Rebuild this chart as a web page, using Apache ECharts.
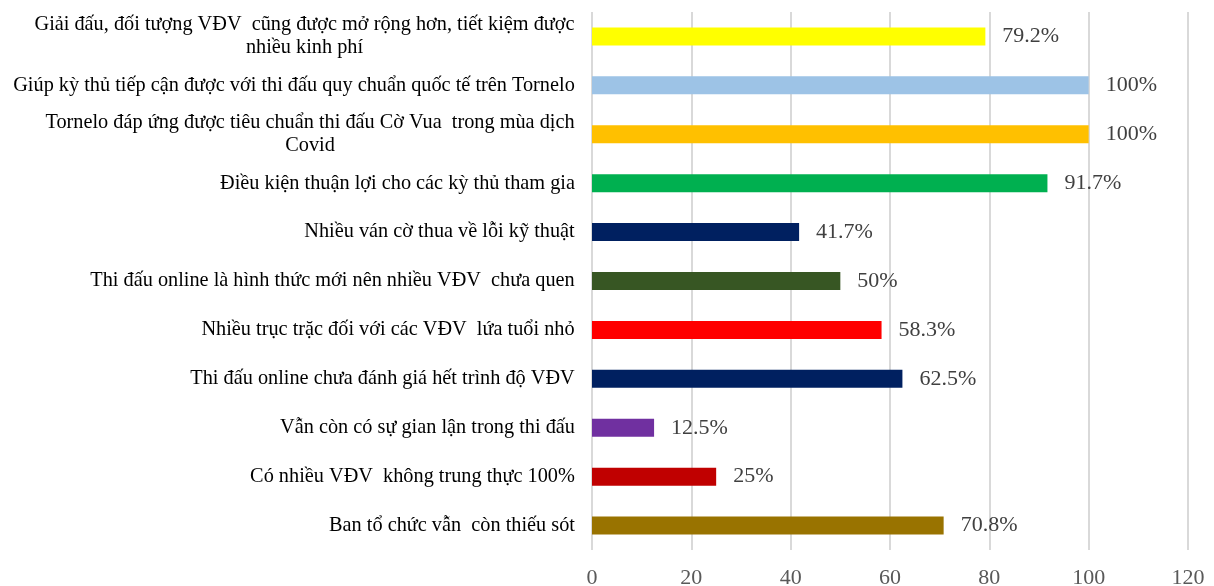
<!DOCTYPE html>
<html>
<head>
<meta charset="utf-8">
<script src="https://cdn.jsdelivr.net/npm/echarts@6/dist/echarts.min.js"></script>
<style>
  html, body { margin: 0; padding: 0; background: #fff; }
  #chart { width: 1214px; height: 586px; }
</style>
</head>
<body>
<div id="chart"></div>
<script>
// categories, top to bottom
var categories = [
  "Giải đấu, đối tượng VĐV  cũng được mở rộng hơn, tiết kiệm được\nnhiều kinh phí",
  "Giúp kỳ thủ tiếp cận được với thi đấu quy chuẩn quốc tế trên Tornelo",
  "Tornelo đáp ứng được tiêu chuẩn thi đấu Cờ Vua  trong mùa dịch\nCovid",
  "Điều kiện thuận lợi cho các kỳ thủ tham gia",
  "Nhiều ván cờ thua về lỗi kỹ thuật",
  "Thi đấu online là hình thức mới nên nhiều VĐV  chưa quen",
  "Nhiều trục trặc đối với các VĐV  lứa tuổi nhỏ",
  "Thi đấu online chưa đánh giá hết trình độ VĐV",
  "Vẫn còn có sự gian lận trong thi đấu",
  "Có nhiều VĐV  không trung thực 100%",
  "Ban tổ chức vẫn  còn thiếu sót"
];
var values = [79.2, 100, 100, 91.7, 41.7, 50, 58.3, 62.5, 12.5, 25, 70.8];
var barColors = ["#FFFF00", "#9DC3E6", "#FFC000", "#00B050", "#002060", "#375623",
                 "#FF0000", "#002060", "#7030A0", "#C00000", "#997300"];
var xTicks = [0, 20, 40, 60, 80, 100, 120];

var labelSize = 20.3;
// measure label lines so wrapped lines can be centred like the original
var ctx = document.createElement("canvas").getContext("2d");
ctx.font = labelSize + "px 'Liberation Serif'";
var rich = {};
categories.forEach(function (c, i) {
  var w = 0;
  c.split("\n").forEach(function (line) {
    w = Math.max(w, ctx.measureText(line).width);
  });
  rich["l" + i] = {
    width: Math.ceil(w),
    align: "center",
    fontFamily: "Liberation Serif",
    fontSize: labelSize,
    lineHeight: 23,
    color: "#000"
  };
});

var chart = echarts.init(document.getElementById("chart"));
chart.setOption({
  animation: false,
  grid: {
    left: 592,
    right: 26,
    top: 12,
    bottom: 36,
    outerBoundsMode: "none"
  },
  xAxis: {
    type: "value",
    min: xTicks[0],
    max: xTicks[xTicks.length - 1],
    interval: 20,
    axisLine: { show: false },
    axisTick: { show: false },
    axisLabel: {
      margin: 17,
      color: "#595959",
      fontFamily: "Liberation Serif",
      fontSize: 22
    },
    splitLine: {
      lineStyle: { color: "#D9D9D9", width: 2 }
    }
  },
  yAxis: {
    type: "category",
    inverse: true,
    data: categories,
    axisLine: { show: false },
    axisTick: { show: false },
    axisLabel: {
      margin: 17,
      formatter: function (val, idx) {
        return val.split("\n").map(function (line) {
          return "{l" + idx + "|" + line + "}";
        }).join("\n");
      },
      rich: rich
    }
  },
  series: [
    {
      type: "bar",
      data: values.map(function (v, i) {
        return { value: v, itemStyle: { color: barColors[i] } };
      }),
      barWidth: 18,
      label: {
        show: true,
        position: "right",
        distance: 17,
        formatter: "{c}%",
        color: "#404040",
        fontFamily: "Liberation Serif",
        fontSize: 22
      }
    }
  ]
});
</script>
</body>
</html>
